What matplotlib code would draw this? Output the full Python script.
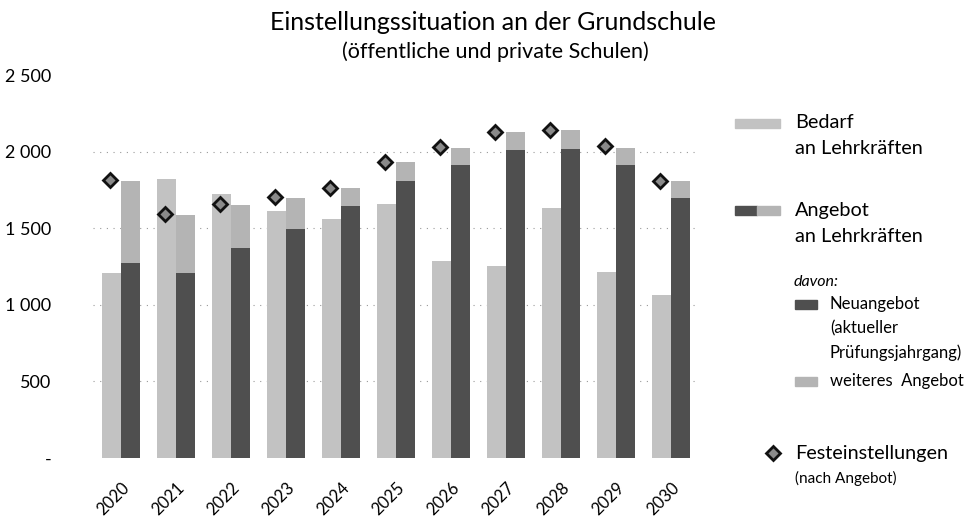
import matplotlib
matplotlib.use("Agg")
import matplotlib.pyplot as plt
from matplotlib.patches import Rectangle
from matplotlib.lines import Line2D
from matplotlib.transforms import ScaledTranslation
import numpy as np

years = ["2020", "2021", "2022", "2023", "2024", "2025", "2026", "2027", "2028", "2029", "2030"]
bedarf = [1210, 1820, 1725, 1615, 1560, 1655, 1285, 1255, 1635, 1215, 1065]
neuangebot = [1270, 1205, 1370, 1495, 1645, 1810, 1910, 2010, 2015, 1915, 1695]
weiteres = [540, 380, 280, 205, 115, 125, 115, 120, 125, 110, 110]
festeinstellungen = [1815, 1590, 1660, 1705, 1760, 1935, 2030, 2130, 2140, 2035, 1810]
ytick_values = [0, 500, 1000, 1500, 2000, 2500]
ytick_labels = ["-", "500", "1 000", "1 500", "2 000", "2 500"]

plt.rcParams['font.family'] = ['Lato', 'DejaVu Sans']

c_bedarf = '#c2c2c2'
c_neu = '#4f4f4f'
c_weit = '#b4b4b4'

fig = plt.figure(figsize=(9.7, 5.18), dpi=100)
ax = fig.add_axes([0.0961, 0.1158, 0.6237, 0.7394])

x = np.arange(len(years))
w = 0.345
ax.bar(x - w / 2, bedarf, width=w, color=c_bedarf, zorder=2)
ax.bar(x + w / 2, neuangebot, width=w, color=c_neu, zorder=2)
ax.bar(x + w / 2, weiteres, width=w, bottom=neuangebot, color=c_weit, zorder=2)
ax.plot(x - w / 2 - 0.02, festeinstellungen, linestyle='none', marker='D', markersize=7,
        markerfacecolor='#8a8a8a', markeredgecolor='#111111', markeredgewidth=2, zorder=3)

ax.set_xlim(-0.5, len(years) - 0.5)
ax.set_ylim(0, 2500)
ax.set_yticks(ytick_values)
ax.set_yticklabels(ytick_labels, fontsize=13)
ax.tick_params(axis='y', length=0, pad=30)
for v in ytick_values[1:-1]:
    ax.axhline(v, color='#9a9a9a', linewidth=0.8, linestyle=(0, (1, 5)), zorder=1)

ax.set_xticks(x)
ax.set_xticklabels(years, fontsize=12, rotation=45, ha='right', va='center',
                   rotation_mode='anchor')
ax.tick_params(axis='x', length=0, pad=19.5)
for lab in ax.get_xticklabels():
    lab.set_transform(lab.get_transform() + ScaledTranslation(6.6 / 100, 0, fig.dpi_scale_trans))

for s in ax.spines.values():
    s.set_visible(False)

fig.text(493 / 970, 1 - 30 / 518, "Einstellungssituation an der Grundschule",
         ha='center', va='baseline', fontsize=18)
fig.text(495 / 970, 1 - 58 / 518, "(öffentliche und private Schulen)",
         ha='center', va='baseline', fontsize=15.5)

# Legend (manual)
def fx(px):
    return px / 970

def fy(py):
    return 1 - py / 518

def swatch(x0, x1, yc, h, color):
    fig.patches.append(Rectangle((fx(x0), fy(yc + h / 2)), fx(x1) - fx(x0), h / 518,
                                 transform=fig.transFigure, color=color, figure=fig))

LF = 14.3
swatch(735, 780, 123, 9, c_bedarf)
fig.text(fx(795), fy(123), "Bedarf", ha='left', va='center', fontsize=LF)
fig.text(fx(795), fy(149), "an Lehrkräften", ha='left', va='center', fontsize=LF)

swatch(735, 757, 210, 9, c_neu)
swatch(757, 780, 210, 9, c_weit)
fig.text(fx(795), fy(210), "Angebot", ha='left', va='center', fontsize=LF)
fig.text(fx(795), fy(237), "an Lehrkräften", ha='left', va='center', fontsize=LF)

SF = 12
fig.text(fx(794), fy(282), "davon:", ha='left', va='center', fontsize=11.5, style='italic')
swatch(795, 817, 304, 9, c_neu)
fig.text(fx(830), fy(304), "Neuangebot", ha='left', va='center', fontsize=SF)
fig.text(fx(830), fy(328), "(aktueller", ha='left', va='center', fontsize=SF)
fig.text(fx(830), fy(353), "Prüfungsjahrgang)", ha='left', va='center', fontsize=SF)
swatch(795, 817, 381, 9, c_weit)
fig.text(fx(830), fy(381), "weiteres  Angebot", ha='left', va='center', fontsize=SF)

fig.lines.append(Line2D([fx(773)], [fy(453)], transform=fig.transFigure, marker='D',
                        markersize=7, markerfacecolor='#8a8a8a', markeredgecolor='#111111',
                        markeredgewidth=2, linestyle='none', figure=fig))
fig.text(fx(795), fy(453), "Festeinstellungen", ha='left', va='center', fontsize=LF)
fig.text(fx(795), fy(478), "(nach Angebot)", ha='left', va='center', fontsize=11)

fig.savefig("out.png", dpi=100)
